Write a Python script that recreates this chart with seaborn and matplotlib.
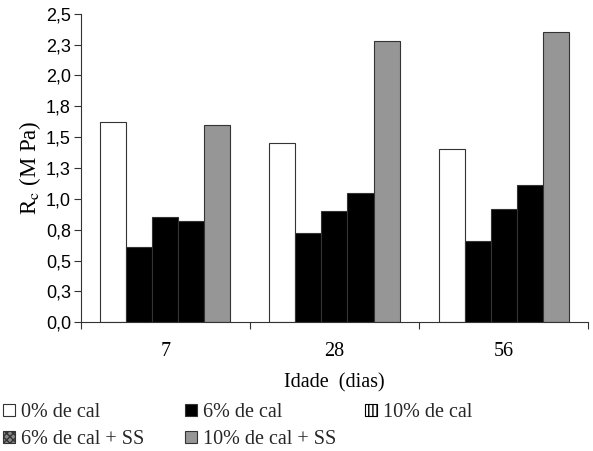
import matplotlib
matplotlib.use("Agg")
import matplotlib.pyplot as plt
import seaborn as sns
import pandas as pd
from matplotlib.patches import Patch

# Data
dias = ["7", "28", "56"]
series = ["0% de cal", "6% de cal", "10% de cal", "6% de cal + SS", "10% de cal + SS"]
v_0cal = [1.62, 1.45, 1.40]
v_6cal = [0.61, 0.72, 0.66]
v_10cal = [0.85, 0.90, 0.92]
v_6cal_ss = [0.82, 1.05, 1.11]
v_10cal_ss = [1.60, 2.28, 2.35]
ytick_vals = [0, 0.25, 0.5, 0.75, 1.0, 1.25, 1.5, 1.75, 2.0, 2.25, 2.5]
ytick_labels = ["0,0", "0,3", "0,5", "0,8", "1,0", "1,3", "1,5", "1,8", "2,0", "2,3", "2,5"]

values = [v_0cal, v_6cal, v_10cal, v_6cal_ss, v_10cal_ss]
rows = []
for s, vals in zip(series, values):
    for d, v in zip(dias, vals):
        rows.append({"Idade": d, "Serie": s, "Rc": v})
df = pd.DataFrame(rows)

sns.set_theme(style="white")
plt.rcParams["mathtext.fontset"] = "stix"

colors = ["#ffffff", "#000000", "#000000", "#000000", "#969696"]

fig = plt.figure(figsize=(5.93, 4.51), dpi=100)
ax = fig.add_axes([0.136, 0.2854, 0.856, 0.6842])

sns.barplot(data=df, x="Idade", y="Rc", hue="Serie", order=dias, hue_order=series,
            palette=colors, width=0.77, gap=0, edgecolor="#333333", linewidth=0.8,
            legend=False, ax=ax)

ax.set_ylim(0, 2.5)
ax.set_xlim(-0.5, 2.5)
ax.set_yticks(ytick_vals)
ax.set_yticklabels(ytick_labels)
for lab in ax.get_yticklabels():
    lab.set_fontfamily("Liberation Sans")
    lab.set_fontsize(13)
    lab.set_color("black")
for lab in ax.get_xticklabels():
    lab.set_fontfamily("Liberation Serif")
    lab.set_fontsize(14.5)
    lab.set_color("black")

# x ticks at group boundaries
ax.set_xticks([-0.5, 0.5, 1.5, 2.5], minor=True)
ax.tick_params(axis="x", which="major", length=0, pad=14)
ax.tick_params(axis="x", which="minor", length=5, width=0.8, color="#333333", direction="out", bottom=True)
ax.tick_params(axis="y", length=5, width=0.8, color="#333333", direction="out", left=True, pad=2)

for side in ["top", "right"]:
    ax.spines[side].set_visible(False)
for side in ["left", "bottom"]:
    ax.spines[side].set_color("#333333")
    ax.spines[side].set_linewidth(0.8)

ax.set_xlabel("Idade  (dias)", family="Liberation Serif", fontsize=14.5, labelpad=9, color="black")
ax.set_ylabel(r"R$_\mathrm{c}$ (M Pa)", family="Liberation Serif", fontsize=16.5, labelpad=2, color="black")

col1 = [
    Patch(facecolor="white", edgecolor="#333333", linewidth=0.8, label="0% de cal"),
    Patch(facecolor="#888888", edgecolor="#333333", hatch="xxxxx", linewidth=0.8, label="6% de cal + SS"),
]
col2 = [
    Patch(facecolor="black", edgecolor="#333333", linewidth=0.8, label="6% de cal"),
    Patch(facecolor="#969696", edgecolor="#333333", linewidth=0.8, label="10% de cal + SS"),
]
col3 = [
    Patch(facecolor="white", edgecolor="black", hatch="||||", linewidth=0.8, label="10% de cal"),
]
for handles, x0 in [(col1, 3 / 593), (col2, 185 / 593), (col3, 365 / 593)]:
    fig.legend(handles=handles, loc="upper left", bbox_to_anchor=(x0, 1 - 403 / 451),
               frameon=False, prop={"family": "Liberation Serif", "size": 14.5},
               handlelength=0.6, handleheight=0.6, handletextpad=0.3,
               labelspacing=0.4, borderpad=0, borderaxespad=0)

fig.savefig("out.png", dpi=100)
